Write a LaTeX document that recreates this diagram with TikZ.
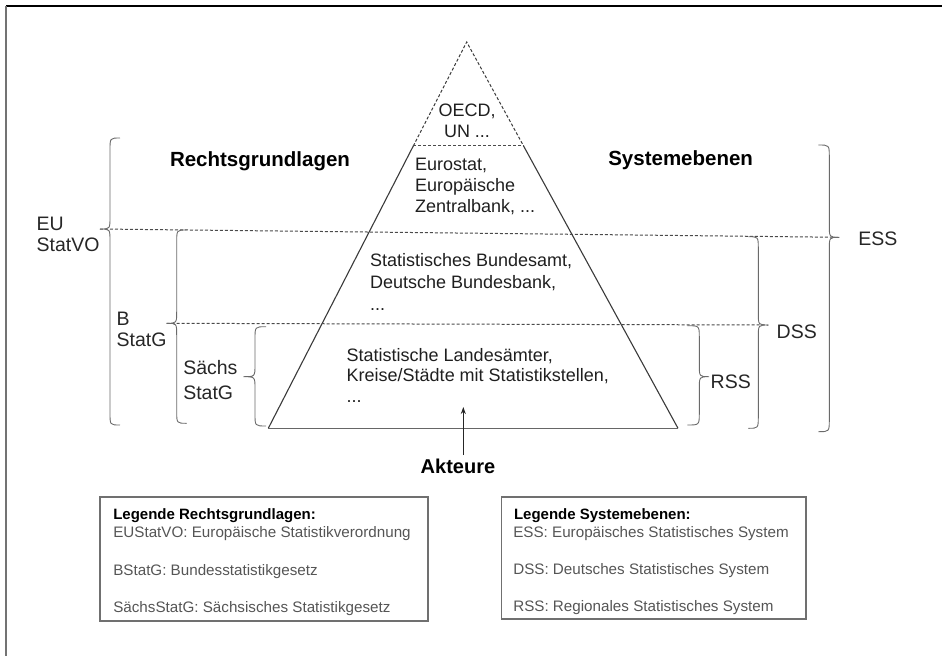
\documentclass[tikz,border=0pt]{standalone}
\usepackage{fontspec}
\setmainfont{Liberation Sans}
\usetikzlibrary{calc,arrows.meta}
\definecolor{linegray}{HTML}{3A3A3A}
\definecolor{bracegray}{HTML}{6A6A6A}
\definecolor{dotgray}{HTML}{4A4A4A}
\definecolor{legtext}{HTML}{555555}
\definecolor{boxgray}{HTML}{707070}
\newcommand{\mybrace}[6]{% #1 hookx #2 linex #3 tipx #4 tipy #5 top #6 bottom
  \draw[brace] (#1,#5) .. controls (#2,#5) .. (#2,#5+12) -- (#2,#4-12)
     .. controls (#2,#4) .. (#3,#4) .. controls (#2,#4) .. (#2,#4+12)
     -- (#2,#6-12) .. controls (#2,#6) .. (#1,#6);}
\begin{document}
\begin{tikzpicture}[x=1pt,y=-1pt,
  every node/.style={inner sep=0pt, outer sep=0pt},
  ptext/.style={font=\fontsize{18}{21}\selectfont, align=left, anchor=north west, text=black!88},
  side/.style={font=\fontsize{19.5}{21}\selectfont, align=left, anchor=north west, text=black!85},
  head/.style={font=\bfseries\fontsize{20.5}{23}\selectfont, anchor=north west},
  legtitle/.style={font=\bfseries\fontsize{15}{17}\selectfont, anchor=north west},
  legline/.style={font=\fontsize{15.2}{17}\selectfont, anchor=north west, text=legtext},
  legbox/.style={draw=boxgray, line width=1.4pt, anchor=north west},
  brace/.style={draw=bracegray, line width=0.9pt},
  dotline/.style={draw=dotgray, line width=1pt, dash pattern=on 3pt off 2pt},
  pyr/.style={draw=linegray, line width=1.1pt},
]
\useasboundingbox (0,0) rectangle (942,656);
% frame
\draw[black, line width=2pt] (6,6) -- (942,6);
\draw[black!55, line width=1.6pt] (6,6) -- (6,656);

% pyramid
\coordinate (apex) at (466.7,42);
\coordinate (bl) at (268.3,428.3);
\coordinate (br) at (678,428.3);
\coordinate (tl) at ($(apex)!0.2692!(bl)$);
\coordinate (tr) at ($(apex)!0.2692!(br)$);
\draw[pyr, dash pattern=on 3pt off 2pt, line width=1pt] (tl) -- (apex) -- (tr);
\draw[pyr] (tl) -- (bl);
\draw[pyr] (tr) -- (br);
\draw[draw=black!60, line width=1.6pt] (bl) -- (br);
\draw[dotline] (tl) -- (tr);

% level lines
\coordinate (euL) at (100,229);
\coordinate (euR) at (839.3,237.3);
\coordinate (dsL) at (166.7,323.3);
\coordinate (dsR) at (768.3,325);
\draw[dotline] (euL) -- (euR);
\draw[dotline] (dsL) -- (dsR);

% left braces
\mybrace{120}{110}{100}{229}{138}{425}
\mybrace{186.7}{176.7}{166.7}{323.3}{230}{423.3}
\mybrace{266}{255}{243.3}{376.7}{326.7}{426}
% right braces
\mybrace{818.3}{829.3}{839.3}{237.3}{145}{431.7}
\mybrace{748.3}{758.3}{768.3}{325}{236.7}{428.3}
\mybrace{687.3}{699.3}{709}{376.7}{325.7}{425}

% headings
\node[head] (recht) at (170,152) {Rechtsgrundlagen};
\node[head] (sys) at (608.3,151) {Systemebenen};

% pyramid texts
\node[ptext, align=center, anchor=north] (oecd) at (467,104) {OECD,\\UN ...};
\node[ptext] (euro) at (415,158) {Eurostat,\\Europäische\\Zentralbank, ...};
\node[ptext, font=\fontsize{18}{22}\selectfont] (bund) at (370,253) {Statistisches Bundesamt,\\Deutsche Bundesbank,\\...};
\node[ptext, font=\fontsize{18}{20.6}\selectfont] (land) at (346.7,348.3) {Statistische Landesämter,\\Kreise/Städte mit Statistikstellen,\\...};

% side labels
\node[side] (eu) at (36.7,217.3) {EU\\StatVO};
\node[side] (bstat) at (116.7,311.7) {B\\StatG};
\node[side, font=\fontsize{19.5}{25}\selectfont] (saechs) at (183.3,360) {Sächs\\StatG};
\node[side] (ess) at (858.3,231.7) {ESS};
\node[side] (dss) at (776.7,325) {DSS};
\node[side] (rss) at (710.7,375) {RSS};

% Akteure
\node[head, font=\bfseries\fontsize{20}{23}\selectfont] (akt) at (420.7,459) {Akteure};
\coordinate (arrtip) at (463.3,407);
\draw[draw=black!85, line width=1pt, -{Stealth[length=7pt,width=5pt]}] ($(akt.north -| arrtip)+(0,-4)$) -- (arrtip);

% legends
\node[legbox, minimum width=328pt, minimum height=124pt] (legL) at (100,497) {};
\node[legbox, minimum width=304.3pt, minimum height=122pt] (legR) at (501.7,497) {};
\node[legtitle] (lt1) at (113.3,508.3) {Legende Rechtsgrundlagen:};
\node[legline] (l11) at (113.3,526.7) {EUStatVO: Europäische Statistikverordnung};
\node[legline] (l12) at (113.3,564) {BStatG: Bundesstatistikgesetz};
\node[legline] (l13) at (113.3,601.7) {SächsStatG: Sächsisches Statistikgesetz};
\node[legtitle] (lt2) at (514,508.3) {Legende Systemebenen:};
\node[legline] (l21) at (513.3,526) {ESS: Europäisches Statistisches System};
\node[legline] (l22) at (513.3,563.3) {DSS: Deutsches Statistisches System};
\node[legline] (l23) at (513.3,600) {RSS: Regionales Statistisches System};
\end{tikzpicture}
\end{document}
